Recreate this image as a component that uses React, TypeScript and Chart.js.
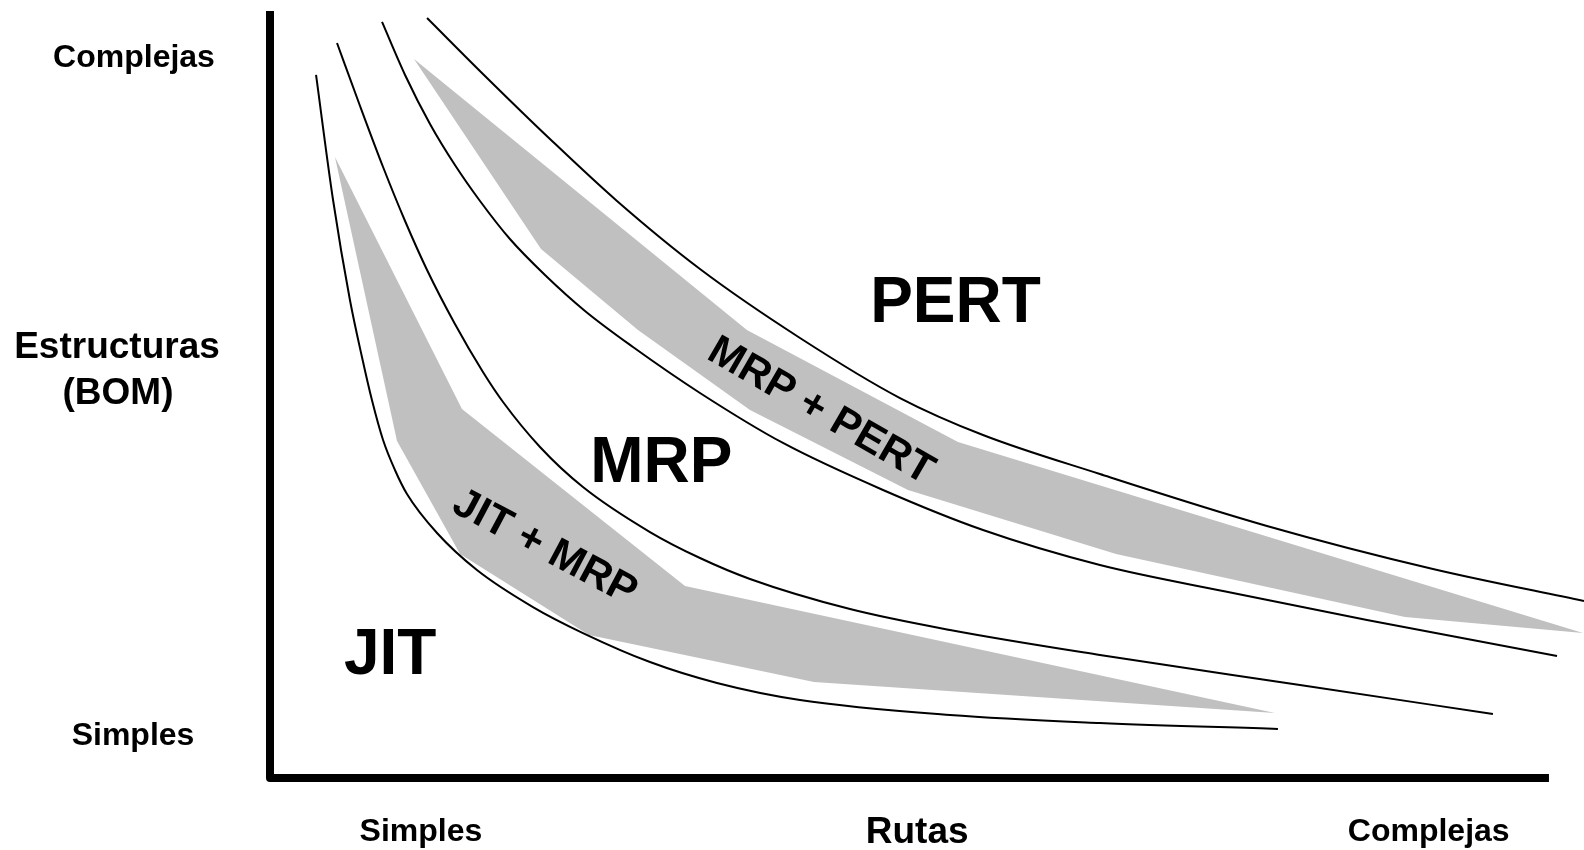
import React, { useEffect, useRef } from "react";
import { Chart, registerables } from "chart.js";

Chart.register(...registerables);

type Pt = { x: number; y: number };

// Axis tick labels
const xTickLabels = ["Simples", "Rutas", "Complejas"];
const xTickValues = [11.8, 50.6, 90.6];
const yTickLabels = ["Complejas", "Estructuras", "(BOM)", "Simples"];
const yTickValues = [92.7, 54.8, 48.7, 4.3];

// Region labels
const regionLabels = ["PERT", "MRP", "JIT"];
const regionX = [53.6, 30.6, 9.4];
const regionY = [59.4, 38.6, 13.6];

// Band labels (rotated)
const bandLabels = ["MRP + PERT", "JIT + MRP"];
const bandLabelX = [43.2, 21.6];
const bandLabelY = [48.2, 30.4];
const bandLabelAngle = [30, 28];

// Boundary curves (x: routes complexity, y: BOM complexity)
const curveJit: Pt[] = [
  { x: 3.6, y: 91.66 }, { x: 4.93, y: 75.36 }, { x: 6.25, y: 62.32 }, { x: 7.19, y: 54.89 },
  { x: 7.97, y: 49.28 }, { x: 8.84, y: 44.07 }, { x: 9.77, y: 40.16 }, { x: 10.71, y: 37.03 },
  { x: 13.06, y: 31.94 }, { x: 16.18, y: 27.12 }, { x: 20.56, y: 22.29 }, { x: 24.47, y: 18.9 },
  { x: 29.71, y: 15.12 }, { x: 34.95, y: 12.39 }, { x: 41.44, y: 10.17 }, { x: 53.17, y: 8.21 },
  { x: 64.89, y: 7.17 }, { x: 78.81, y: 6.39 },
];
const curveMrpLow: Pt[] = [
  { x: 5.24, y: 95.83 }, { x: 7.04, y: 87.61 }, { x: 8.84, y: 79.66 }, { x: 10.56, y: 72.62 },
  { x: 12.28, y: 66.23 }, { x: 14.46, y: 59.19 }, { x: 16.65, y: 52.93 }, { x: 18.22, y: 49.02 },
  { x: 21.11, y: 43.16 }, { x: 24.47, y: 37.94 }, { x: 29.71, y: 32.07 }, { x: 33.62, y: 28.68 },
  { x: 37.53, y: 25.95 }, { x: 45.35, y: 22.03 }, { x: 53.17, y: 19.3 }, { x: 64.89, y: 16.04 },
  { x: 80.53, y: 12.13 }, { x: 95.62, y: 8.34 },
];
const curveMrpHigh: Pt[] = [
  { x: 8.76, y: 98.57 }, { x: 10.56, y: 91.66 }, { x: 12.51, y: 85.27 }, { x: 14.46, y: 79.92 },
  { x: 16.42, y: 75.23 }, { x: 18.76, y: 70.27 }, { x: 21.5, y: 65.58 }, { x: 24.63, y: 60.89 },
  { x: 28.38, y: 56.19 }, { x: 33.62, y: 50.2 }, { x: 40.11, y: 43.68 }, { x: 47.93, y: 37.55 },
  { x: 55.75, y: 32.33 }, { x: 64.89, y: 27.77 }, { x: 75.29, y: 24.12 }, { x: 85.77, y: 20.6 },
  { x: 100.63, y: 15.91 },
];
const curvePert: Pt[] = [
  { x: 12.28, y: 99.09 }, { x: 16.65, y: 91.79 }, { x: 21.89, y: 83.31 }, { x: 27.13, y: 75.23 },
  { x: 33.62, y: 66.36 }, { x: 41.44, y: 57.37 }, { x: 49.26, y: 49.54 }, { x: 55.75, y: 44.72 },
  { x: 64.89, y: 39.63 }, { x: 77.95, y: 32.86 }, { x: 90.93, y: 27.25 }, { x: 102.74, y: 23.08 },
];

// Transition bands (closed outlines)
const bandJitMrp: Pt[] = [
  { x: 5.08, y: 80.96 }, { x: 15.01, y: 48.11 }, { x: 32.45, y: 25.03 }, { x: 78.58, y: 8.47 },
  { x: 42.53, y: 12.52 }, { x: 24.94, y: 18.64 }, { x: 14.86, y: 29.2 }, { x: 9.93, y: 43.94 },
];
const bandMrpPert: Pt[] = [
  { x: 11.26, y: 93.74 }, { x: 37.29, y: 58.41 }, { x: 53.79, y: 43.81 }, { x: 102.66, y: 18.9 },
  { x: 88.74, y: 20.99 }, { x: 66.15, y: 29.2 }, { x: 49.88, y: 37.55 }, { x: 37.53, y: 47.98 },
  { x: 28.77, y: 58.41 }, { x: 21.19, y: 68.97 },
];

const FONT = '"Liberation Sans", Arial, Helvetica, sans-serif';

const overlayPlugin = {
  id: "overlay",
  afterDatasetsDraw(chart: any) {
    const { ctx, chartArea } = chart;
    const xs = chart.scales.x;
    const ys = chart.scales.y;
    ctx.save();
    // axes
    ctx.strokeStyle = "#000";
    ctx.lineWidth = 8;
    ctx.lineJoin = "round";
    ctx.lineCap = "butt";
    ctx.beginPath();
    ctx.moveTo(xs.getPixelForValue(0), ys.getPixelForValue(100));
    ctx.lineTo(xs.getPixelForValue(0), ys.getPixelForValue(0));
    ctx.lineTo(xs.getPixelForValue(100), ys.getPixelForValue(0));
    ctx.stroke();

    ctx.fillStyle = "#000";
    ctx.textAlign = "center";
    ctx.textBaseline = "alphabetic";

    // y tick labels
    const yCenters = [134, 117, 118, 133];
    const ySizes = [32, 37, 37, 32];
    yTickLabels.forEach((t, i) => {
      ctx.font = `bold ${ySizes[i]}px ${FONT}`;
      ctx.fillText(t, yCenters[i], ys.getPixelForValue(yTickValues[i]));
    });
    // x tick labels
    const xSizes = [32, 37, 32];
    xTickLabels.forEach((t, i) => {
      ctx.font = `bold ${xSizes[i]}px ${FONT}`;
      ctx.fillText(t, xs.getPixelForValue(xTickValues[i]), chartArea.bottom + (i === 1 ? 65 : 63));
    });
    // region labels
    ctx.font = `bold 64px ${FONT}`;
    regionLabels.forEach((t, i) => {
      ctx.fillText(t, xs.getPixelForValue(regionX[i]), ys.getPixelForValue(regionY[i]));
    });
    // band labels
    const bandFont = 42;
    ctx.font = `bold ${bandFont}px ${FONT}`;
    bandLabels.forEach((t, i) => {
      ctx.save();
      ctx.translate(xs.getPixelForValue(bandLabelX[i]), ys.getPixelForValue(bandLabelY[i]));
      ctx.rotate((bandLabelAngle[i] * Math.PI) / 180);
      ctx.fillText(t, 0, bandFont * 0.36);
      ctx.restore();
    });
    ctx.restore();
  },
};

export default function App() {
  const canvasRef = useRef<HTMLCanvasElement | null>(null);

  useEffect(() => {
    document.body.style.margin = "0";
    const canvas = canvasRef.current;
    if (!canvas) return;
    const band = (label: string, data: Pt[]) => ({
      label,
      data,
      showLine: true,
      fill: "shape",
      backgroundColor: "#c0c0c0",
      borderColor: "rgba(0,0,0,0)",
      borderWidth: 0,
      pointRadius: 0,
      tension: 0,
    });
    const curve = (label: string, data: Pt[]) => ({
      label,
      data,
      showLine: true,
      fill: false,
      borderColor: "#000",
      borderWidth: 2,
      pointRadius: 0,
      cubicInterpolationMode: "monotone",
    });
    const chart = new Chart(canvas, {
      type: "scatter",
      data: {
        datasets: [
          curve("JIT", curveJit) as any,
          curve("MRP bajo", curveMrpLow) as any,
          curve("MRP alto", curveMrpHigh) as any,
          curve("PERT", curvePert) as any,
          band("JIT + MRP", bandJitMrp) as any,
          band("MRP + PERT", bandMrpPert) as any,
        ],
      },
      options: {
        animation: false,
        responsive: true,
        maintainAspectRatio: false,
        events: [],
        layout: { padding: { left: 270, top: 11, right: 0, bottom: 72 } },
        scales: {
          x: { type: "linear", min: 0, max: 102.74, display: false },
          y: { type: "linear", min: 0, max: 100, display: false },
        },
        plugins: {
          legend: { display: false },
          tooltip: { enabled: false },
        },
      },
      plugins: [overlayPlugin],
    });
    return () => chart.destroy();
  }, []);

  return (
    <div style={{ width: 1584, height: 850, position: "relative", background: "#fff" }}>
      <canvas ref={canvasRef} />
    </div>
  );
}
